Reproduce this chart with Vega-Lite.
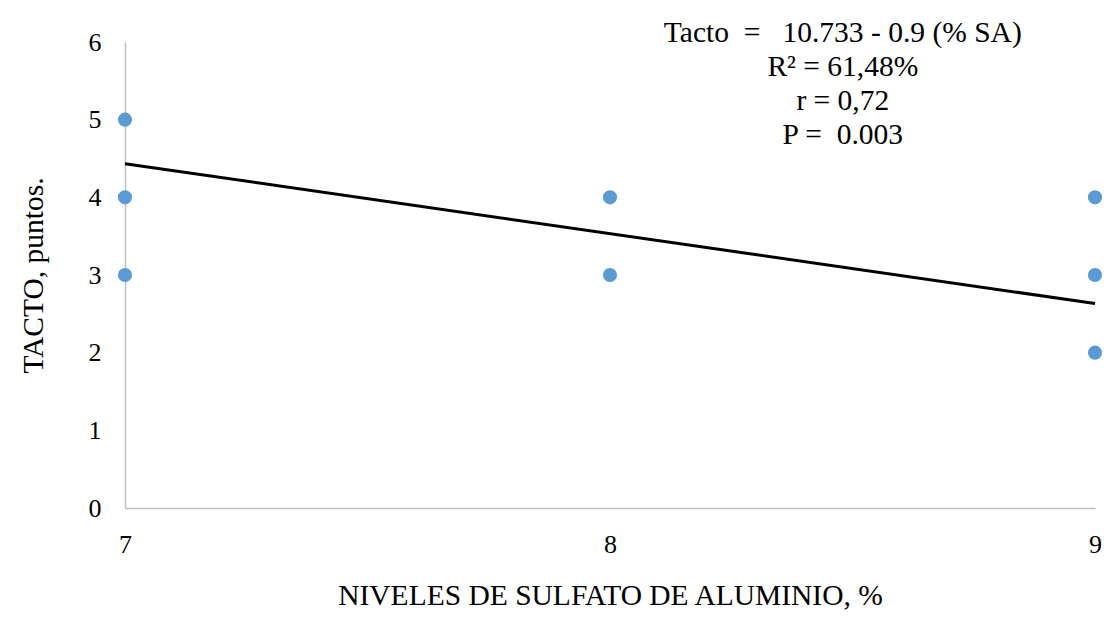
{
  "$schema": "https://vega.github.io/schema/vega-lite/v6.json",
  "width": 970,
  "height": 466,
  "autosize": "none",
  "padding": {"left": 125, "top": 42, "right": 22, "bottom": 118},
  "background": "white",
  "config": {
    "view": {"stroke": null},
    "font": "Liberation Serif",
    "axis": {
      "grid": false,
      "ticks": false,
      "domainColor": "#BFBFBF",
      "domainWidth": 1.5,
      "labelFont": "Liberation Serif",
      "labelFontSize": 26,
      "labelColor": "#000000",
      "titleFont": "Liberation Serif",
      "titleFontSize": 29.5,
      "titleFontWeight": "normal",
      "titleColor": "#000000"
    }
  },
  "datasets": {
    "puntos": [
      {"sa": 7, "tacto": 5},
      {"sa": 7, "tacto": 4},
      {"sa": 7, "tacto": 3},
      {"sa": 8, "tacto": 4},
      {"sa": 8, "tacto": 3},
      {"sa": 9, "tacto": 4},
      {"sa": 9, "tacto": 3},
      {"sa": 9, "tacto": 2}
    ],
    "ajuste": [
      {"sa": 7, "tacto": 4.433},
      {"sa": 9, "tacto": 2.633}
    ],
    "ecuacion": [
      {"texto": "Tacto \u00a0= \u00a0 10.733 - 0.9 (% SA)\nR² = 61,48%\nr = 0,72\nP = \u00a00.003"}
    ]
  },
  "layer": [
    {
      "data": {"name": "puntos"},
      "mark": {"type": "circle", "size": 200, "color": "#5B9BD5", "opacity": 1},
      "encoding": {
        "x": {
          "field": "sa",
          "type": "quantitative",
          "scale": {"domain": [7, 9], "nice": false, "zero": false},
          "axis": {
            "values": [7, 7.5, 8, 8.5, 9],
            "labelExpr": "datum.value % 1 === 0 ? format(datum.value, 'd') : ''",
            "labelOverlap": false,
            "labelFlush": false,
            "title": "NIVELES DE SULFATO DE ALUMINIO, %",
            "labelPadding": 23,
            "titlePadding": 24
          }
        },
        "y": {
          "field": "tacto",
          "type": "quantitative",
          "scale": {"domain": [0, 6], "nice": false},
          "axis": {
            "values": [0, 1, 2, 3, 4, 5, 6],
            "format": "d",
            "title": "TACTO, puntos.",
            "labelPadding": 24,
            "titlePadding": 40
          }
        }
      }
    },
    {
      "data": {"name": "ajuste"},
      "mark": {"type": "line", "color": "#000000", "strokeWidth": 3},
      "encoding": {
        "x": {"field": "sa", "type": "quantitative"},
        "y": {"field": "tacto", "type": "quantitative"}
      }
    },
    {
      "data": {"name": "ecuacion"},
      "mark": {
        "type": "text",
        "lineBreak": "\n",
        "fontSize": 29.5,
        "lineHeight": 34,
        "align": "center",
        "baseline": "top",
        "color": "#000000"
      },
      "encoding": {
        "x": {"datum": 8.48, "type": "quantitative"},
        "y": {"datum": 6.3, "type": "quantitative"},
        "text": {"field": "texto"}
      }
    }
  ]
}
